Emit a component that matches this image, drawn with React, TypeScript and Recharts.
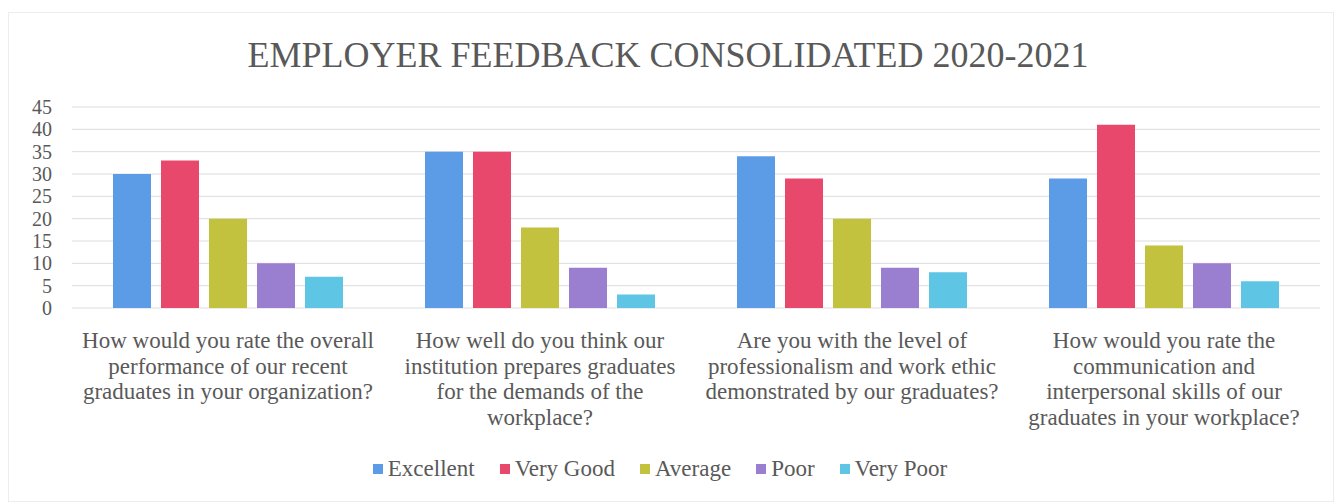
import { BarChart, Bar, XAxis, YAxis, CartesianGrid, Legend } from "recharts"

const categories = [
  "How would you rate the overall\nperformance of our recent\ngraduates in your organization?",
  "How well do you think our\ninstitution prepares graduates\nfor the demands of the\nworkplace?",
  "Are you with the level of\nprofessionalism and work ethic\ndemonstrated by our graduates?",
  "How would you rate the\ncommunication and\ninterpersonal skills of our\ngraduates in your workplace?",
]

const excellent = [30, 35, 34, 29]
const veryGood = [33, 35, 29, 41]
const average = [20, 18, 20, 14]
const poor = [10, 9, 9, 10]
const veryPoor = [7, 3, 8, 6]

const yTicks = [0, 5, 10, 15, 20, 25, 30, 35, 40, 45]

const series = [
  { key: "excellent", name: "Excellent", color: "#5c9ce6" },
  { key: "veryGood", name: "Very Good", color: "#e8486c" },
  { key: "average", name: "Average", color: "#c2c23e" },
  { key: "poor", name: "Poor", color: "#9a7ecf" },
  { key: "veryPoor", name: "Very Poor", color: "#5ec6e4" },
]

const data = categories.map((cat, i) => ({
  cat,
  excellent: excellent[i],
  veryGood: veryGood[i],
  average: average[i],
  poor: poor[i],
  veryPoor: veryPoor[i],
}))

const FONT = '"Liberation Serif", "Times New Roman", Times, "DejaVu Serif", serif'
const TEXT = "#595959"

function CategoryTick(props: any) {
  const { x, y, payload } = props
  const lines = String(payload.value).split("\n")
  return (
    <text x={x} y={y} textAnchor="middle" fill={TEXT} style={{ fontFamily: FONT }} fontSize={23}>
      {lines.map((line, i) => (
        <tspan key={i} x={x} dy={i === 0 ? 38 : 25.7}>
          {line}
        </tspan>
      ))}
    </text>
  )
}

function LegendContent() {
  return (
    <div style={{ display: "flex", justifyContent: "center", gap: 25, fontFamily: FONT, fontSize: 23, color: TEXT }}>
      {series.map((s) => (
        <div key={s.key} style={{ display: "flex", alignItems: "center", gap: 5 }}>
          <span style={{ width: 10, height: 10, background: s.color, display: "inline-block" }}></span>
          <span>{s.name}</span>
        </div>
      ))}
    </div>
  )
}

export default function App() {
  return (
    <div style={{ position: "absolute", left: 0, top: 0, width: 1336, height: 504, background: "#fff", fontFamily: FONT }}>
      <div
        style={{
          position: "absolute",
          left: 8,
          top: 12,
          width: 1326,
          height: 490,
          border: "1px solid #ededed",
          boxSizing: "border-box",
        }}
      ></div>
      <div
        style={{
          position: "absolute",
          left: 0,
          top: 35,
          width: 1336,
          textAlign: "center",
          fontFamily: FONT,
          fontSize: 36,
          color: TEXT,
          lineHeight: "40px",
        }}
      >
        EMPLOYER FEEDBACK CONSOLIDATED 2020-2021
      </div>
      <BarChart
        width={1336}
        height={504}
        data={data}
        margin={{ top: 107, right: 16, left: 0, bottom: 10 }}
        barGap={10}
        barCategoryGap={41}
        style={{ fontFamily: FONT }}
      >
        <CartesianGrid vertical={false} stroke="#dcdcdc" />
        <XAxis
          dataKey="cat"
          axisLine={false}
          tickLine={false}
          tickSize={0}
          interval={0}
          height={148}
          tick={<CategoryTick />}
        />
        <YAxis
          width={72}
          domain={[0, 45]}
          ticks={yTicks}
          interval={0}
          axisLine={false}
          tickLine={false}
          tickSize={0}
          tickMargin={20}
          tick={{ fill: TEXT, fontFamily: FONT, fontSize: 20 }}
        />
        <Legend verticalAlign="bottom" height={38} content={<LegendContent />} />
        {series.map((s) => (
          <Bar key={s.key} dataKey={s.key} name={s.name} fill={s.color} isAnimationActive={false} />
        ))}
      </BarChart>
    </div>
  )
}
